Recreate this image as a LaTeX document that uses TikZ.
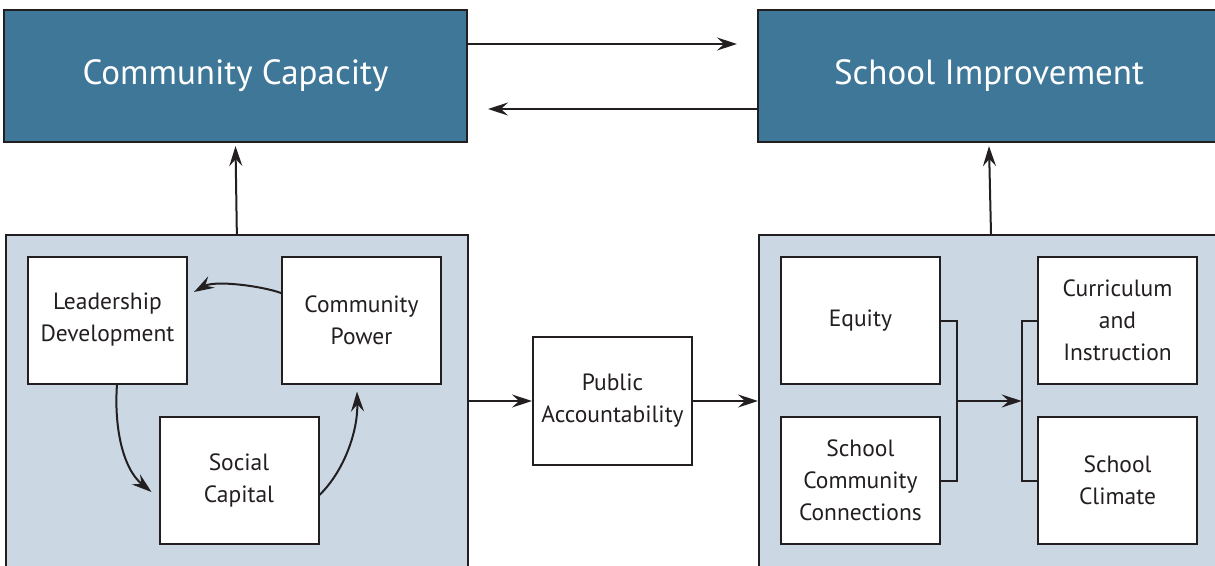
\documentclass[tikz,border=0pt]{standalone}
\usepackage{fontspec}
\setmainfont{PT Sans}
\usetikzlibrary{arrows.meta}
\definecolor{topblue}{RGB}{63,119,152}
\definecolor{panel}{RGB}{203,215,226}
\definecolor{ink}{RGB}{35,31,32}
\begin{document}
\begin{tikzpicture}[x=1pt,y=-1pt,
 topbox/.style={draw=ink, line width=2.2pt, fill=topblue, text=white, minimum width=463pt, minimum height=132pt, inner sep=0pt, font=\fontsize{35}{40}\selectfont},
 panelbox/.style={draw=ink, line width=2pt, fill=panel, inner sep=0pt},
 inbox/.style={draw=ink, line width=2pt, fill=white, text=ink, minimum width=159pt, minimum height=127pt, inner sep=0pt, align=center, font=\fontsize{23.5}{32}\selectfont},
 arr/.style={draw=ink, line width=2pt, -{Stealth[length=20pt,width=13pt,inset=7pt]}},
 ln/.style={draw=ink, line width=2pt}]
\useasboundingbox (0,0) rectangle (1215,565);
\clip (0,0) rectangle (1215,565);
% top boxes
\node[topbox] (cc) at (235.5,76) {Community Capacity};
\node[topbox, minimum width=462pt] (si) at (989,76) {School Improvement};
% panels
\node[panelbox, minimum width=462.3pt, minimum height=341pt, anchor=north west] (lp) at (4.7,234) {};
\node[panelbox, minimum width=464pt, minimum height=341pt, anchor=north west] (rp) at (758,234) {};
% inner boxes left
\node[inbox] (ld) at (107.5,320) {Leadership\\Development};
\node[inbox] (cp) at (361.5,320) {Community\\Power};
\node[inbox] (sc) at (239,480) {Social\\Capital};
% middle
\node[inbox, minimum height=128pt] (pa) at (612.5,401) {Public\\Accountability};
% inner boxes right
\node[inbox] (eq) at (860.4,320.5) {Equity};
\node[inbox] (scc) at (860.4,480.5) {School\\Community\\Connections};
\node[inbox] (ci) at (1117.5,320.5) {Curriculum\\and\\Instruction};
\node[inbox] (scl) at (1117.5,480.5) {School\\Climate};
% top arrows
\coordinate (t1) at (737,44);
\coordinate (t2) at (488,109);
\draw[arr] (cc.east |- t1) -- (t1);
\draw[arr] (si.west |- t2) -- (t2);
% vertical arrows
\draw[arr] (lp.north) -- ([yshift=-3pt]cc.south);
\draw[arr] (rp.north) -- ([yshift=-3pt]si.south);
% middle arrows
\draw[arr] (lp.east |- pa.west) -- (pa.west);
\draw[arr] (pa.east) -- (rp.west |- pa.east);
% cycle arrows
\draw[arr] ([yshift=27pt]cp.west) .. controls (262,286) and (215,280) .. ([xshift=6pt,yshift=28pt]ld.east);
\draw[arr] ([xshift=9.5pt]ld.south) .. controls (114,425) and (122,468) .. ([xshift=-7pt,yshift=-12pt]sc.west);
\draw[arr] ([yshift=-15pt]sc.east) .. controls (345,470) and (358,430) .. ([xshift=-4.5pt,yshift=-7pt]cp.south);
% brackets
\coordinate (bj) at (956.7,401);
\coordinate (bk) at (1021.7,401);
\draw[ln] (eq.east) -| (bj |- scc.east) -- (scc.east);
\draw[arr] (bj) -- (bk);
\draw[ln] (ci.west) -| (bk |- scl.west) -- (scl.west);
\end{tikzpicture}
\end{document}
